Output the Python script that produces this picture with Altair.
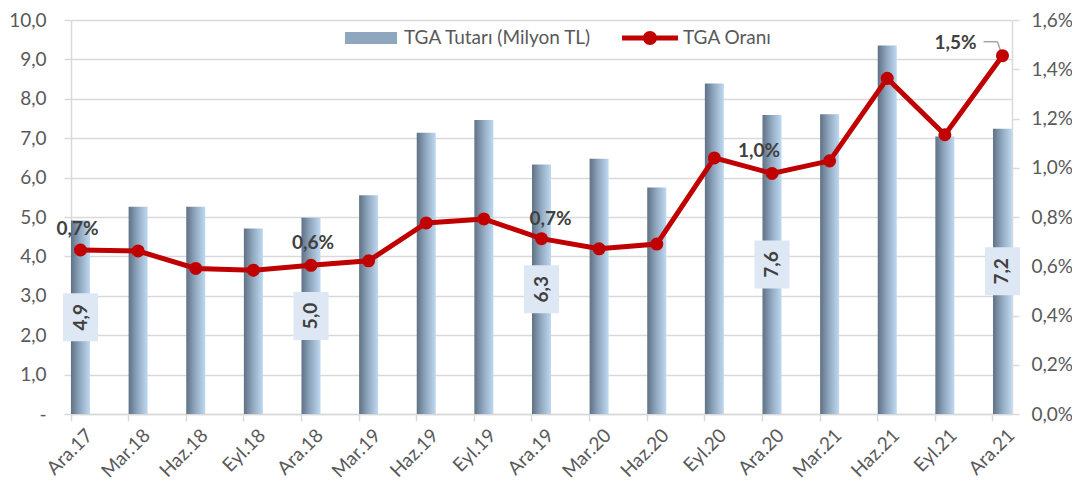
import altair as alt
import pandas as pd

categories = ["Ara.17", "Mar.18", "Haz.18", "Eyl.18", "Ara.18", "Mar.19", "Haz.19",
              "Eyl.19", "Ara.19", "Mar.20", "Haz.20", "Eyl.20", "Ara.20", "Mar.21",
              "Haz.21", "Eyl.21", "Ara.21"]
amounts = [4.91, 5.26, 5.26, 4.71, 4.98, 5.55, 7.14, 7.46, 6.33, 6.48, 5.75, 8.39,
           7.59, 7.61, 9.35, 7.04, 7.24]
rates = [0.666, 0.662, 0.591, 0.584, 0.604, 0.622, 0.776, 0.792, 0.712, 0.671, 0.690,
         1.040, 0.977, 1.028, 1.363, 1.134, 1.455]
series_names = ["TGA Tutarı (Milyon TL)", "TGA Oranı"]
left_ticks = [0, 1, 2, 3, 4, 5, 6, 7, 8, 9, 10]
right_ticks = [0, 0.2, 0.4, 0.6, 0.8, 1.0, 1.2, 1.4, 1.6]

df = pd.DataFrame({"cat": categories, "amount": amounts, "rate": rates})
legend_df = pd.DataFrame({"series": series_names})

FONT = "Lato"
GRAY = "#d9d9d9"
TXT = "#595959"
RED = "#c00000"
FS = 19

base = alt.Chart(df)

x_enc = alt.X(
    "cat:N", sort=categories, title=None,
    scale=alt.Scale(type="band", paddingInner=0.67, paddingOuter=0),
    axis=alt.Axis(bandPosition=0, labelAngle=-45, labelAlign="right",
                  labelBaseline="middle", labelPadding=11, tickSize=7,
                  tickColor=GRAY, tickWidth=1.5, domainColor=GRAY, domainWidth=1.5,
                  labelFont=FONT, labelFontSize=FS, labelColor=TXT, grid=False,
                  labelOffset=9),
)

left_scale = alt.Scale(domain=[0, 10], nice=False)
right_scale = alt.Scale(domain=[0, 1.6], nice=False)

left_axis = alt.Axis(values=left_ticks, orient="left",
                     labelExpr="datum.value == 0 ? '-\u00a0\u00a0' : replace(format(datum.value, '.1f'), '.', ',')",
                     grid=True, gridColor=GRAY, gridWidth=1.5,
                     domainColor=GRAY, domainWidth=1.5, tickColor=GRAY,
                     tickWidth=1.5, tickSize=7, labelPadding=18,
                     labelFont=FONT, labelFontSize=FS, labelColor=TXT)
right_axis = alt.Axis(values=right_ticks, orient="right",
                      labelExpr="replace(format(datum.value, '.1f'), '.', ',') + '%'",
                      grid=False, domainColor=GRAY, domainWidth=1.5,
                      tickColor=GRAY, tickWidth=1.5, tickSize=7, labelPadding=12,
                      labelFont=FONT, labelFontSize=FS, labelColor=TXT)

bar_grad = alt.LinearGradient(
    gradient="linear", x1=0, x2=1, y1=0, y2=0,
    stops=[alt.GradientStop(color="#5f7185", offset=0),
           alt.GradientStop(color="#93abc2", offset=0.5),
           alt.GradientStop(color="#bfd9f0", offset=1)],
)

bars = base.mark_bar(color=bar_grad).encode(
    x=x_enc,
    y=alt.Y("amount:Q", scale=left_scale, title=None, axis=left_axis),
)

box_path = "M-0.73,-1H0.73V1H-0.73Z"
ara = base.transform_filter("indexof(datum.cat, 'Ara') == 0").transform_calculate(
    half="datum.amount / 2",
    lbl="replace(format(datum.amount, '.1f'), '.', ',')",
)
y_half = alt.Y("half:Q", scale=left_scale, title=None, axis=left_axis)
boxes = ara.mark_point(filled=True, shape=box_path, size=2304, color="#dde8f4",
                       opacity=1, strokeWidth=0).encode(x=x_enc, y=y_half)
box_text = ara.mark_text(angle=270, font=FONT, fontSize=FS, fontWeight="bold",
                         color="#404040", align="center", baseline="middle").encode(
    x=x_enc, y=y_half, text="lbl:N")

legend_shapes = ["M-0.93,-0.21H0.93V0.21H-0.93Z",
                 "M-1,-0.09H1V0.09H-1Z M-0.25,0A0.25,0.25 0 1,1 0.25,0A0.25,0.25 0 1,1 -0.25,0Z"]
leg = alt.Legend(orient="none", legendX=272, legendY=-10, direction="horizontal",
                 title=None, symbolSize=3136, labelFont=FONT, labelFontSize=FS,
                 labelColor=TXT, labelOffset=5, columnPadding=30, symbolStrokeWidth=0,
                 labelLimit=400)
legend_layer = alt.Chart(legend_df).mark_point(filled=True, opacity=1).encode(
    color=alt.Color("series:N", scale=alt.Scale(domain=series_names,
                                                 range=["#8fa7be", RED]), legend=leg),
    shape=alt.Shape("series:N", scale=alt.Scale(domain=series_names,
                                                 range=legend_shapes), legend=leg),
).transform_filter("false")

left = alt.layer(bars, boxes, box_text, legend_layer)

y_right = alt.Y("rate:Q", scale=right_scale, title=None, axis=right_axis)

line = base.mark_line(color=RED, strokeWidth=5).encode(x=x_enc, y=y_right)
pts = base.mark_point(filled=True, color=RED, size=170, opacity=1).encode(x=x_enc, y=y_right)

pct = base.transform_calculate(
    plbl="replace(format(datum.rate, '.1f'), '.', ',') + '%'")

# label placement (dx, dy) for each labelled point, as in the original
label_offsets = {"Ara.17": (-3, -21), "Ara.18": (2, -22), "Ara.19": (9, -20),
                 "Ara.20": (-13, -22), "Ara.21": (-47, -13)}
pct_layers = []
for cat_name, (ddx, ddy) in label_offsets.items():
    pct_layers.append(
        pct.transform_filter(f"datum.cat == '{cat_name}'").mark_text(
            font=FONT, fontSize=FS, fontWeight="bold", color="#404040",
            dx=ddx, dy=ddy, baseline="middle").encode(x=x_enc, y=y_right, text="plbl:N"))

last = base.transform_filter(f"datum.cat == '{categories[-1]}'")
lead1 = last.mark_rule(color="#a6a6a6", strokeWidth=1.5, xOffset=-19, x2Offset=-5,
                       yOffset=-14, y2Offset=-14).encode(
    x=x_enc, x2=alt.X2("cat"), y=y_right, y2=alt.Y2("rate"))
lead2 = last.mark_rule(color="#a6a6a6", strokeWidth=1.5, xOffset=-5, x2Offset=-2,
                       yOffset=-14, y2Offset=-5).encode(
    x=x_enc, x2=alt.X2("cat"), y=y_right, y2=alt.Y2("rate"))

right = alt.layer(lead1, lead2, line, pts, *pct_layers)

chart = alt.layer(left, right).resolve_scale(y="independent").properties(
    width=941, height=394,
    autosize=alt.AutoSizeParams(type="none"),
    padding={"left": 63, "top": 12, "right": 60, "bottom": 67},
).configure_view(stroke=None)

chart.save("out.html", embed_options={"renderer": "svg", "actions": False})
